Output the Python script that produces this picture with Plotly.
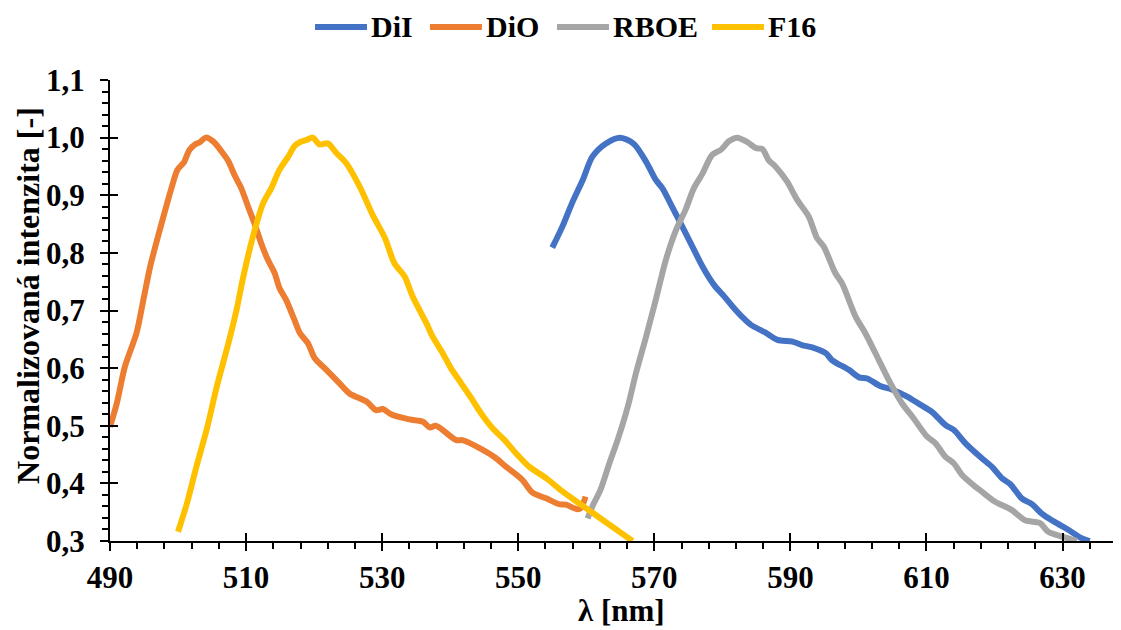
import plotly.graph_objects as go

# ---- data ----
dil_x = [555.0, 556.5, 558.0, 559.5, 560.9, 562.9, 565.0, 567.0, 568.8, 570.2, 571.2, 572.7, 574.1, 575.6,
         577.1, 578.8, 580.3, 581.5, 582.9, 584.2, 586.3, 588.1, 590.3, 591.7, 593.2, 595.2, 596.1, 598.6,
         600.1, 601.3, 603.2, 604.9, 607.1, 608.9, 610.8, 612.8, 614.0, 615.7, 618.1, 619.6, 621.1, 622.3,
         624.0, 625.5, 626.9, 628.7, 630.9, 632.8, 634.0]
dil_y = [0.809, 0.846, 0.889, 0.927, 0.967, 0.990, 1.000, 0.989, 0.958, 0.927, 0.912, 0.878, 0.846, 0.811,
         0.776, 0.744, 0.724, 0.707, 0.689, 0.675, 0.662, 0.649, 0.646, 0.640, 0.636, 0.626, 0.614, 0.597,
         0.584, 0.582, 0.569, 0.563, 0.551, 0.538, 0.524, 0.501, 0.493, 0.470, 0.444, 0.429, 0.409, 0.399,
         0.374, 0.364, 0.348, 0.334, 0.319, 0.305, 0.300]

dio_x = [490.0, 491.0, 492.2, 493.9, 494.9, 495.9, 497.6, 499.1, 499.9, 500.8, 501.7, 502.5, 503.2, 504.1,
         505.2, 506.4, 507.4, 508.3, 509.3, 510.3, 511.3, 512.3, 513.2, 514.2, 514.9, 515.9, 517.1, 517.9,
         519.1, 520.1, 521.8, 523.7, 525.2, 527.7, 529.1, 530.1, 531.3, 534.0, 536.0, 537.0, 537.9, 540.9,
         541.8, 544.8, 546.7, 548.2, 550.6, 552.1, 554.1, 556.0, 557.0, 558.7, 559.2, 559.9]
dio_y = [0.498, 0.539, 0.603, 0.661, 0.718, 0.776, 0.852, 0.915, 0.944, 0.956, 0.979, 0.988, 0.992, 1.000,
         0.993, 0.976, 0.959, 0.935, 0.912, 0.880, 0.849, 0.814, 0.788, 0.765, 0.739, 0.718, 0.684, 0.661,
         0.643, 0.617, 0.597, 0.574, 0.556, 0.542, 0.527, 0.529, 0.520, 0.511, 0.507, 0.497, 0.500, 0.475,
         0.475, 0.458, 0.444, 0.429, 0.406, 0.384, 0.374, 0.364, 0.363, 0.355, 0.357, 0.377]

rboe_x = [560.2, 560.9, 562.1, 563.4, 564.6, 566.1, 567.3, 568.8, 570.2, 571.7, 573.2, 574.6, 575.8, 577.1,
          578.5, 579.8, 581.0, 582.2, 583.7, 584.9, 585.9, 586.8, 587.8, 589.5, 591.0, 592.7, 593.9, 594.9,
          596.6, 597.6, 599.6, 601.0, 603.0, 604.7, 606.4, 608.1, 610.1, 611.3, 612.8, 614.0, 615.2, 616.9,
          618.1, 620.1, 622.5, 624.5, 626.7, 627.9, 630.1, 632.1]
rboe_y = [0.339, 0.360, 0.389, 0.435, 0.475, 0.533, 0.591, 0.655, 0.718, 0.788, 0.840, 0.875, 0.912, 0.938,
          0.970, 0.979, 0.994, 1.000, 0.992, 0.982, 0.980, 0.961, 0.950, 0.924, 0.892, 0.863, 0.826, 0.811,
          0.765, 0.747, 0.689, 0.661, 0.614, 0.574, 0.539, 0.513, 0.481, 0.470, 0.446, 0.435, 0.415, 0.397,
          0.386, 0.368, 0.354, 0.336, 0.331, 0.316, 0.307, 0.300]

f16_x = [500.0, 501.3, 502.7, 504.2, 505.7, 507.4, 508.6, 509.6, 511.0, 512.5, 513.7, 514.9, 516.2, 517.1,
         517.9, 518.9, 519.8, 520.8, 522.0, 523.3, 524.7, 526.7, 528.6, 530.4, 531.8, 533.3, 534.5, 536.5,
         537.4, 538.9, 540.1, 541.6, 543.1, 544.5, 546.2, 548.0, 549.7, 551.6, 554.1, 556.5, 559.0, 561.4,
         563.2, 565.0, 566.8]
f16_y = [0.316, 0.365, 0.429, 0.493, 0.568, 0.643, 0.701, 0.759, 0.828, 0.886, 0.912, 0.944, 0.967, 0.985,
         0.992, 0.996, 1.000, 0.988, 0.990, 0.973, 0.956, 0.915, 0.866, 0.826, 0.782, 0.759, 0.724, 0.678,
         0.655, 0.626, 0.600, 0.574, 0.548, 0.522, 0.496, 0.475, 0.452, 0.429, 0.409, 0.386, 0.365, 0.345,
         0.330, 0.315, 0.300]

series_names = ["DiI", "DiO", "RBOE", "F16"]
series_x = [dil_x, dio_x, rboe_x, f16_x]
series_y = [dil_y, dio_y, rboe_y, f16_y]
series_colors = ["#4472C4", "#ED7D31", "#A5A5A5", "#FFC000"]

FONT = "Liberation Serif"
XR = [490, 638.3]
YR = [0.3, 1.1]

fig = go.Figure()
for name, xs, ys, col in zip(series_names, series_x, series_y, series_colors):
    fig.add_trace(go.Scatter(x=xs, y=ys, name=name, mode="lines", showlegend=False,
                             line=dict(color=col, width=6, shape="spline", smoothing=0.8),
                             cliponaxis=True))

# legend drawn by hand (Excel style: long line samples), positions in paper units
leg_line_x0 = [0.2032, 0.3171, 0.4430, 0.5966]
leg_line_len = 0.0515
leg_y = 1.115
for name, col, x0 in zip(series_names, series_colors, leg_line_x0):
    fig.add_shape(type="line", xref="paper", yref="paper", x0=x0, x1=x0 + leg_line_len,
                  y0=leg_y, y1=leg_y, line=dict(color=col, width=6), layer="above")
    fig.add_annotation(xref="paper", yref="paper", x=x0 + leg_line_len + 0.002, y=leg_y,
                       xanchor="left", yanchor="middle", showarrow=False, text=name,
                       font=dict(family=FONT, size=30, color="black", weight="bold"))

# axis titles as annotations (placed like the reference)
fig.add_annotation(xref="paper", yref="paper", x=-0.0813, y=0.5336, xanchor="center",
                   yanchor="middle", showarrow=False, textangle=-90,
                   text="Normalizovaná intenzita [-]",
                   font=dict(family=FONT, size=32, color="black", weight="bold"))
fig.add_annotation(xref="paper", yref="paper", x=0.507, y=-0.192, xanchor="center",
                   yanchor="bottom", showarrow=False, text="λ [nm]",
                   font=dict(family=FONT, size=31, color="black", weight="bold"))

# page body has an 8px margin: figure is sized so the plot lands where the reference has it
fig.update_layout(
    width=1113, height=622,
    margin=dict(l=102, r=2, t=72, b=89),
    paper_bgcolor="white", plot_bgcolor="white",
    separators=", ",
    font=dict(family=FONT, size=30, color="black"),
    showlegend=False,
    xaxis=dict(range=XR, tick0=490, dtick=20, showgrid=False, zeroline=False,
               showline=True, linecolor="black", linewidth=2,
               ticks="outside", ticklen=8, tickwidth=2, tickcolor="black",
               minor=dict(tick0=490, dtick=4, ticks="outside", ticklen=6, tickwidth=2, tickcolor="black"),
               tickfont=dict(family=FONT, size=31, color="black", weight="bold"),
               ticklabelstandoff=0),
    yaxis=dict(range=YR, tick0=0.3, dtick=0.1, tickformat=".1f", showgrid=False, zeroline=False,
               showline=True, linecolor="black", linewidth=2,
               ticks="outside", ticklen=8, tickwidth=2, tickcolor="black",
               minor=dict(tick0=0.3, dtick=0.02, ticks="outside", ticklen=6, tickwidth=2, tickcolor="black"),
               tickfont=dict(family=FONT, size=31, color="black", weight="bold"),
               ticklabelstandoff=9),
    xaxis2=dict(overlaying="x", anchor="y", range=XR, tick0=490, dtick=20, showgrid=False,
                zeroline=False, showline=False, ticks="inside", ticklen=8, tickwidth=2,
                tickcolor="black", showticklabels=False),
    yaxis2=dict(overlaying="y", anchor="x", range=YR, tick0=0.3, dtick=0.1, showgrid=False,
                zeroline=False, showline=False, ticks="inside", ticklen=8, tickwidth=2,
                tickcolor="black", showticklabels=False),
)
# invisible helper trace so that the overlay axes (for crossing major ticks) are drawn
fig.add_trace(go.Scatter(x=[None], y=[None], xaxis="x2", yaxis="y2", showlegend=False,
                         hoverinfo="skip", mode="lines"))

fig.write_html("out.html")
